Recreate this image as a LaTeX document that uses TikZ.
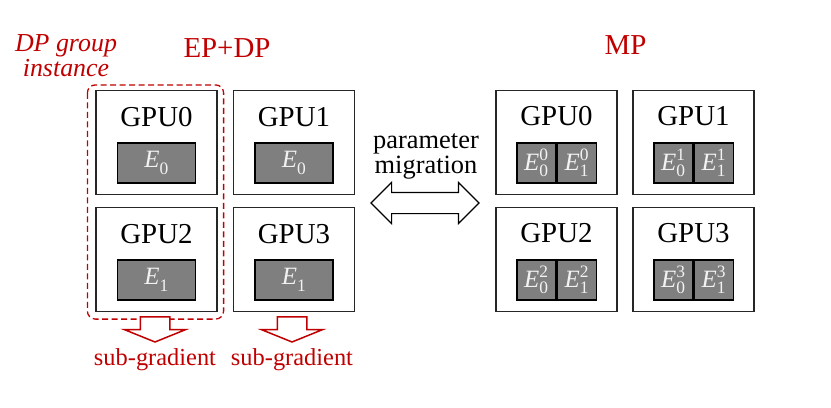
\documentclass[tikz,border=0pt]{standalone}
\usepackage{amsmath}
\usepackage{fontspec}
\setmainfont{Liberation Serif}
\usepackage{tikz}
\usetikzlibrary{shapes,arrows,positioning,calc}
\definecolor{dpred}{RGB}{192,0,0}
\definecolor{expgray}{RGB}{127,127,127}
\newcommand{\expert}[2]{$\textit{E}_{\text{#1}}^{\text{#2}}$}
\tikzset{
    gpu/.style={draw=black!85, line width=1.2bp, minimum width=121bp, minimum height=104bp, inner sep=0pt},
    gpulabel/.style={font=\fontsize{29}{29}\selectfont},
    expertbox/.style={draw=black, line width=1.5bp, fill=expgray, minimum width=78bp, minimum height=40bp, inner sep=0pt, text=black!5, font=\fontsize{25}{25}\selectfont},
    halfexpert/.style={expertbox, minimum width=39bp},
    dpgroup/.style={draw=dpred, line width=1.3bp, dash pattern=on 6bp off 3.5bp, rounded corners=8bp},
    gradarrow/.style={single arrow, draw=dpred, fill=white, line width=1.5bp, inner xsep=0pt, inner ysep=14bp, minimum height=25bp, minimum width=60bp, single arrow head extend=16bp, single arrow tip angle=136, rotate=-90},
    migarrow/.style={double arrow, draw=black, fill=white, line width=1.2bp, inner xsep=0pt, inner ysep=10bp, minimum height=108bp, minimum width=40bp, double arrow head extend=10bp},
    redlabel/.style={text=dpred, inner sep=0pt},
}

\begin{document}
\begin{tikzpicture}[x=1bp, y=-1bp]
    \useasboundingbox (0,0) rectangle (831,407);

    % EP+DP side
    \foreach \i/\x/\y/\e in {0/156.5/142.5/0, 1/294/142.5/0, 2/156.5/259.5/1, 3/294/259.5/1} {
        \node[gpu] (ep\i) at (\x,\y) {};
        \node[gpulabel, anchor=base] (ep\i-name) at ($(ep\i.north)+(0,37)$) {GPU\i};
        \node[expertbox] (ep\i-exp) at ($(ep\i.north)+(0,73)$) {\expert{\e}{}};
    }
    \node[redlabel, font=\fontsize{29}{29}\selectfont, anchor=base] (eptitle) at (227,57) {EP+DP};
    \node[redlabel, font=\itshape\fontsize{26}{25}\selectfont, align=center] (grouplabel) at (66,56) {DP group\\instance};
    \draw[dpgroup] ($(ep0.north west)+(-8,-5)$) rectangle ($(ep2.south east)+(6,7)$);

    % sub-gradients
    \node[gradarrow] (sg0) at (155,326.5) {};
    \node[gradarrow] (sg1) at (292,326.5) {};
    \node[redlabel, font=\fontsize{24.5}{24.5}\selectfont, anchor=base] (sg0-text) at (155,365) {sub-gradient};
    \node[redlabel, font=\fontsize{24.5}{24.5}\selectfont, anchor=base] (sg1-text) at (292,365) {sub-gradient};

    % MP side
    \foreach \i/\x/\y in {0/556.5/142.5, 1/693.5/142.5, 2/556.5/259.5, 3/693.5/259.5} {
        \node[gpu] (mp\i) at (\x,\y) {};
        \node[gpulabel, anchor=base] (mp\i-name) at ($(mp\i.north)+(0,36)$) {GPU\i};
        \node[halfexpert, anchor=east] (mp\i-a) at ($(mp\i.north)+(0,73)$) {\expert{0}{\i}};
        \node[halfexpert, anchor=west] (mp\i-b) at ($(mp\i.north)+(0,73)$) {\expert{1}{\i}};
    }
    \node[redlabel, font=\fontsize{29}{29}\selectfont, anchor=base] (mptitle) at (625.5,54) {MP};

    % migration
    \node[migarrow] (mig) at (425,203) {};
    \node[font=\fontsize{26.5}{25}\selectfont, align=center, inner sep=0pt] (migtext) at (426,156) {parameter\\migration};
\end{tikzpicture}
\end{document}
